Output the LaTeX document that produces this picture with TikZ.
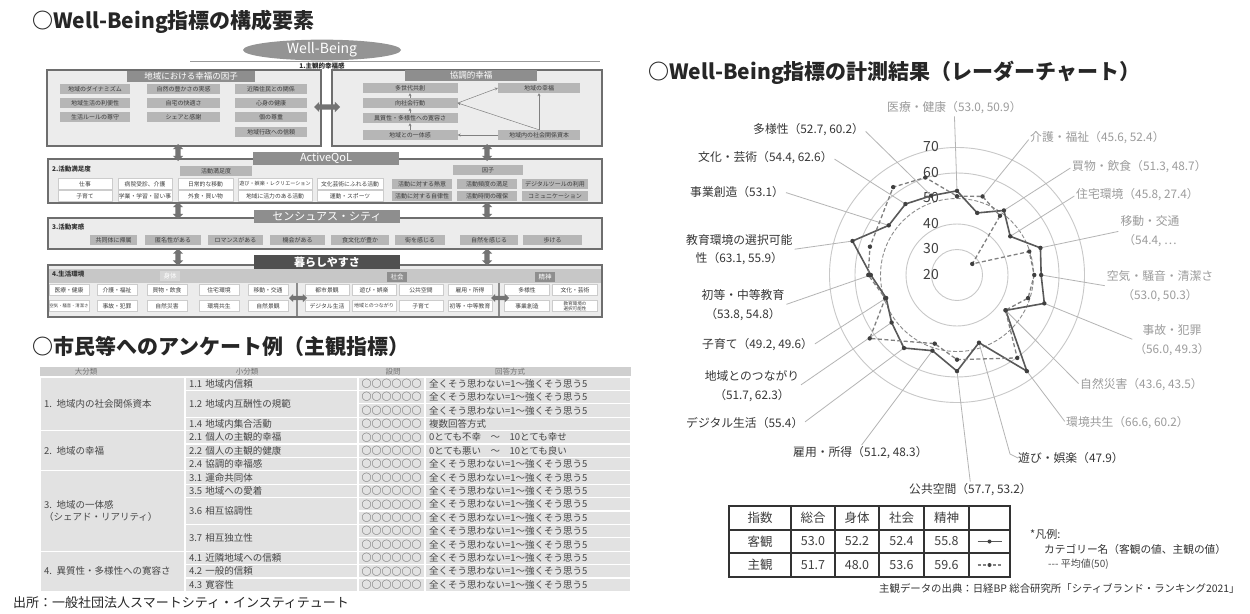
\documentclass[tikz,border=0pt]{standalone}
\usepackage{fontspec}
\setmainfont{Noto Sans CJK JP}
\usetikzlibrary{shapes.arrows,shapes.geometric,calc,arrows.meta}
\definecolor{bgbox}{HTML}{ECECEC}
\definecolor{frame}{HTML}{6E6E6E}
\definecolor{tabg}{HTML}{8E8E8E}
\definecolor{tabd}{HTML}{505050}
\definecolor{cellg}{HTML}{B6B6B6}
\definecolor{celltx}{HTML}{3C3C3C}
\definecolor{txd}{HTML}{363636}
\definecolor{txl}{HTML}{9C9C9C}
\definecolor{gridc}{HTML}{C8C8C8}
\definecolor{leadc}{HTML}{B4B4B4}
\definecolor{qbg}{HTML}{E2E2E2}
\definecolor{qhd}{HTML}{CFCFCF}
\definecolor{ptc}{HTML}{404040}
\newcommand\myfs[1]{\fontsize{#1}{#1}\selectfont}
\newcommand\rfont{\fontsize{11.8}{18.5}\selectfont}
\newcommand\qa{全くそう思わない=1～強くそう思う5}
\newcommand\cl[6]{\node[#1, minimum width=#5pt] (#2) at (#3,#4) {#6};}
\newcommand\qr[3]{\node[qcellc] (m#1) at (391.5,#2) {○○○○○○};
  \node[qcell, text width=198pt, minimum height=13.4pt] (n#1) at (528,#2) {#3};}
\newcommand\qs[4]{\node[qcell, text width=165pt, minimum height=#3pt] (#1) at (271.5,#2) {#4};}
\begin{document}
\begin{tikzpicture}[x=1pt,y=-1pt,
  title/.style={anchor=west, inner sep=0pt, font=\myfs{21}\bfseries, text=black!85},
  box/.style={draw=frame, line width=1.4pt, fill=bgbox, inner sep=0pt},
  tab/.style={fill=tabg, text=white, inner sep=0pt, font=\myfs{8.5}},
  gcell/.style={fill=cellg, text=celltx, inner sep=0pt, font=\myfs{6}, minimum height=10pt},
  wcell/.style={fill=white, draw=black!20, line width=0.4pt, text=celltx, inner sep=0pt, font=\myfs{5.8}, minimum height=11pt, align=center},
  tag/.style={fill=tabg, text=white, inner sep=0pt, font=\myfs{6.5}, minimum width=20pt, minimum height=10pt},
  seclbl/.style={anchor=west, inner sep=0pt, font=\myfs{6.5}\bfseries, text=black!80},
  dbl/.style={double arrow, fill=black!55, inner sep=2.5pt, minimum height=18pt, double arrow head extend=2.5pt},
  ar/.style={-{Stealth[length=3pt,width=3pt]}, draw=black!50, line width=0.5pt},
  ringc/.style={draw=gridc, line width=0.9pt},
  avgring/.style={draw=black!45, line width=0.9pt, dash pattern=on 4pt off 2pt},
  objl/.style={draw=black!65, line width=1.6pt},
  subl/.style={draw=black!50, line width=1.3pt, dash pattern=on 4pt off 2.5pt},
  rl/.style={font=\rfont, inner sep=0pt, text=txd},
  rll/.style={rl, text=txl},
  lead/.style={draw=leadc, line width=0.8pt, shorten <=2pt},
  ringlbl/.style={font=\myfs{14}, inner sep=0pt, text=black!75},
  tcell/.style={draw=black!80, line width=1.3pt, inner sep=0pt, font=\myfs{12.5}, text=black!75},
  qcell/.style={fill=qbg, draw=white, line width=1.2pt, inner xsep=4pt, inner ysep=0pt, font=\fontsize{9.5}{11.5}\selectfont, text=black!72, align=left},
  qcellc/.style={fill=qbg, draw=white, line width=1.2pt, inner sep=0pt, minimum width=67pt, minimum height=13.4pt, font=\myfs{10}, text=black!72},
  qht/.style={inner sep=0pt, font=\myfs{7.5}, text=black!55}
]
\useasboundingbox[fill=white] (0,0) rectangle (1250,613);

% ---------------- titles ----------------
\node[title] (t1) at (32,22) {○Well-Being指標の構成要素};
\node[title] (t2) at (32,346) {○市民等へのアンケート例（主観指標）};
\node[title] (t3) at (648,73) {○Well-Being指標の計測結果（レーダーチャート）};
\node[anchor=west, inner sep=0pt, font=\myfs{13}, text=black!85] (src1) at (13,603) {出所：一般社団法人スマートシティ・インスティテュート};

% ---------------- structure: level 1 ----------------
\draw[black!40, line width=0.6pt] (190,61) -- (600,61);
\node[ellipse, fill=black!42, minimum width=158pt, minimum height=17pt, inner sep=0pt, text=white, font=\myfs{14}] (wb) at (322,50) {Well-Being};
\node[font=\myfs{6.5}\bfseries, inner sep=0.5pt, text=black!85] (sub1) at (322,66) {1.主観的幸福感};

\node[box, minimum width=274pt, minimum height=76pt] (B1) at (184,108) {};
\node[tab, minimum width=128pt, minimum height=11pt] (T1) at (191,76) {地域における幸福の因子};
\cl{gcell}{a11}{95}{89}{70}{地域のダイナミズム}
\cl{gcell}{a12}{183.5}{89}{73}{自然の豊かさの実感}
\cl{gcell}{a13}{271}{89}{72}{近隣住民との関係}
\cl{gcell}{a21}{95}{103}{70}{地域生活の利便性}
\cl{gcell}{a22}{183.5}{103}{73}{自宅の快適さ}
\cl{gcell}{a23}{271}{103}{72}{心身の健康}
\cl{gcell}{a31}{95}{117}{70}{生活ルールの尊守}
\cl{gcell}{a32}{183.5}{117}{73}{シェアと感謝}
\cl{gcell}{a33}{271}{117}{72}{個の尊重}
\cl{gcell}{a43}{271}{132}{72}{地域行政への信頼}

\node[box, minimum width=270pt, minimum height=76pt] (R1) at (467,108) {};
\node[tab, minimum width=132pt, minimum height=11pt] (TR) at (471,75) {協調的幸福};
\cl{gcell}{r1}{410}{88}{95}{多世代共創}
\cl{gcell}{r2}{410}{103}{95}{向社会行動}
\cl{gcell}{r3}{410}{118}{95}{異質性・多様性への寛容さ}
\cl{gcell}{r4}{410}{135}{95}{地域との一体感}
\cl{gcell}{q1}{539}{88}{82}{地域の幸福}
\cl{gcell}{q2}{539}{135}{82}{地域内の社会関係資本}
\draw[ar] (r2.east) -- (q1.west);
\draw[ar] (q2.north) -- (q1.south);
\draw[ar] (q2.north) -- (r2.east);
\draw[ar] (q2.west) -- (r4.east);
\draw[ar] (r4.north) -- (r3.south);
\draw[ar] (r3.north) -- (r2.south);
\draw[ar] (r2.north) -- (r1.south);
\node[dbl, minimum height=26pt] (h1) at (327,107) {};

% ---------------- level 2 ----------------
\node[box, minimum width=554pt, minimum height=44pt] (B2) at (325,181) {};
\node[tab, minimum width=146pt, minimum height=13pt, font=\myfs{11}] (T2) at (326,158.5) {ActiveQoL};
\node[seclbl] (S2) at (52,169) {2.活動満足度};
\cl{gcell}{h2a}{216}{171}{72}{活動満足度}
\cl{wcell}{b11}{85}{184}{54}{仕事}
\cl{wcell}{b12}{145}{184}{54}{病院受診、介護}
\cl{wcell}{b13}{205.5}{184}{55}{日常的な移動}
\cl{wcell}{b14}{275}{184}{74}{\myfs{5.1}遊び・娯楽・レクリエーション}
\cl{wcell}{b15}{350}{184}{66}{文化芸術にふれる活動}
\cl{wcell}{b21}{85}{196}{54}{子育て}
\cl{wcell}{b22}{145}{196}{54}{学業・学習・習い事}
\cl{wcell}{b23}{205.5}{196}{55}{外食・買い物}
\cl{wcell}{b24}{275}{196}{74}{地域に活力のある活動}
\cl{wcell}{b25}{350}{196}{66}{運動・スポーツ}
\cl{gcell}{h2b}{488}{170}{70}{因子}
\cl{gcell}{c11}{422}{184}{60}{活動に対する熱意}
\cl{gcell}{c12}{487}{184}{60}{活動頻度の満足}
\cl{gcell}{c13}{555}{184}{66}{デジタルツールの利用}
\cl{gcell}{c21}{422}{196}{60}{活動に対する自律性}
\cl{gcell}{c22}{487}{196}{60}{活動時間の確保}
\cl{gcell}{c23}{555}{196}{66}{コミュニケーション}

% ---------------- level 3 ----------------
\node[box, minimum width=554pt, minimum height=31pt] (B3) at (325,233.5) {};
\node[tab, minimum width=146pt, minimum height=13pt, font=\myfs{11}] (T3) at (327,216.5) {センシュアス・シティ};
\node[seclbl] (S3) at (52,227) {3.活動実感};
\cl{gcell}{d1}{113.5}{240}{47}{共同体に帰属}
\cl{gcell}{d2}{173}{240}{56}{匿名性がある}
\cl{gcell}{d3}{235.5}{240}{55}{ロマンスがある}
\cl{gcell}{d4}{297.5}{240}{55}{機会がある}
\cl{gcell}{d5}{360}{240}{58}{食文化が豊か}
\cl{gcell}{d6}{420}{240}{50}{街を感じる}
\cl{gcell}{d7}{489}{240}{58}{自然を感じる}
\cl{gcell}{d8}{552.5}{240}{59}{歩ける}

% ---------------- level 4 ----------------
\node[box, minimum width=554pt, minimum height=52pt] (B4) at (325,291) {};
\node[fill=black!22, minimum width=552pt, minimum height=14pt, inner sep=0pt] (band4) at (325,276) {};
\node[tab, fill=tabd, font=\myfs{11}\bfseries, minimum width=146pt, minimum height=14pt] (T4) at (327,262) {暮らしやすさ};
\node[seclbl] (S4) at (52,274) {4.生活環境};
\node[tag, fill=black!16] (g1) at (170,276) {身体};
\node[tag] (g2) at (397,277) {社会};
\node[tag] (g3) at (545,277) {精神};
\draw[black!45, line width=1.8pt] (297,283) -- (297,316);
\draw[black!45, line width=1.8pt] (499,283) -- (499,316);
\cl{wcell}{e11}{69}{290}{40}{医療・健康}
\cl{wcell}{e12}{117}{290}{40}{介護・福祉}
\cl{wcell}{e13}{167}{290}{40}{買物・飲食}
\cl{wcell}{e14}{219}{290}{40}{住宅環境}
\cl{wcell}{e15}{268}{290}{40}{移動・交通}
\cl{wcell}{e21}{69}{306}{40}{\myfs{4.3}空気・騒音・清潔さ}
\cl{wcell}{e22}{117}{306}{40}{事故・犯罪}
\cl{wcell}{e23}{167}{306}{40}{自然災害}
\cl{wcell}{e24}{219}{306}{40}{環境共生}
\cl{wcell}{e25}{268}{306}{40}{自然景観}
\cl{wcell}{f11}{327}{290}{44}{都市景観}
\cl{wcell}{f12}{374}{290}{44}{遊び・娯楽}
\cl{wcell}{f13}{421}{290}{44}{公共空間}
\cl{wcell}{f14}{470}{290}{44}{雇用・所得}
\cl{wcell}{f21}{327}{306}{44}{デジタル生活}
\cl{wcell}{f22}{374}{306}{44}{\myfs{5}地域とのつながり}
\cl{wcell}{f23}{421}{306}{44}{子育て}
\cl{wcell}{f24}{470}{306}{44}{初等・中等教育}
\cl{wcell}{g11}{527}{290}{45}{多様性}
\cl{wcell}{g12}{575}{290}{45}{文化・芸術}
\cl{wcell}{g21}{527}{306}{45}{事業創造}
\node[wcell, minimum width=45pt, font=\myfs{4.6}] (g22) at (575,306) {教育環境の\\選択可能性};
\node[dbl, minimum height=18pt, inner sep=2pt, double arrow head extend=2pt] (h4a) at (298,298) {};
\node[dbl, minimum height=18pt, inner sep=2pt, double arrow head extend=2pt] (h4b) at (500,298) {};

% vertical links between levels
\node[dbl, shape border rotate=90, minimum height=17pt] (v1) at (178,152.5) {};
\node[dbl, shape border rotate=90, minimum height=17pt] (v2) at (487,152.5) {};
\node[dbl, shape border rotate=90, minimum height=17pt] (v3) at (178,210.5) {};
\node[dbl, shape border rotate=90, minimum height=17pt] (v4) at (487,210.5) {};
\node[dbl, shape border rotate=90, minimum height=17pt] (v5) at (178,257) {};
\node[dbl, shape border rotate=90, minimum height=17pt] (v6) at (487,257) {};

% ---------------- questionnaire table ----------------
\node[fill=qhd, minimum width=591pt, minimum height=10pt, inner sep=0pt] (qh) at (335.5,372) {};
\node[qht] (qh1) at (86,372) {大分類};
\node[qht] (qh2) at (247,372) {小分類};
\node[qht] (qh3) at (393,372) {設問};
\node[qht] (qh4) at (510,372) {回答方式};
\node[qcell, text width=137pt, minimum height=53.6pt] (p1) at (112.5,403.8) {1. 地域内の社会関係資本};
\node[qcell, text width=137pt, minimum height=40.2pt] (p2) at (112.5,450.7) {2. 地域の幸福};
\node[qcell, text width=137pt, minimum height=80.4pt] (p3) at (112.5,511) {3. 地域の一体感\\（シェアド・リアリティ）};
\node[qcell, text width=137pt, minimum height=40.2pt] (p4) at (112.5,571.3) {4. 異質性・多様性への寛容さ};
\qs{u1}{383.7}{13.4}{1.1 地域内信頼}
\qs{u2}{403.8}{26.8}{1.2 地域内互酬性の規範}
\qs{u4}{423.9}{13.4}{1.4 地域内集合活動}
\qs{u5}{437.3}{13.4}{2.1 個人の主観的幸福}
\qs{u6}{450.7}{13.4}{2.2 個人の主観的健康}
\qs{u7}{464.1}{13.4}{2.4 協調的幸福感}
\qs{u8}{477.5}{13.4}{3.1 運命共同体}
\qs{u9}{490.9}{13.4}{3.5 地域への愛着}
\qs{u10}{511}{26.8}{3.6 相互協調性}
\qs{u12}{537.8}{26.8}{3.7 相互独立性}
\qs{u14}{557.9}{13.4}{4.1 近隣地域への信頼}
\qs{u15}{571.3}{13.4}{4.2 一般的信頼}
\qs{u16}{584.7}{13.4}{4.3 寛容性}
\qr{1}{383.7}{\qa}
\qr{2}{397.1}{\qa}
\qr{3}{410.5}{\qa}
\qr{4}{423.9}{複数回答方式}
\qr{5}{437.3}{0とても不幸\quad ～\quad 10とても幸せ}
\qr{6}{450.7}{0とても悪い\quad ～\quad 10とても良い}
\qr{7}{464.1}{\qa}
\qr{8}{477.5}{\qa}
\qr{9}{490.9}{\qa}
\qr{10}{504.3}{\qa}
\qr{11}{517.7}{\qa}
\qr{12}{531.1}{\qa}
\qr{13}{544.5}{\qa}
\qr{14}{557.9}{\qa}
\qr{15}{571.3}{\qa}
\qr{16}{584.7}{\qa}

% ---------------- radar chart ----------------
\begin{scope}[shift={(957,275)}]
  \foreach \k in {1,2,4,5} \draw[ringc] (0,0) circle ({25.5*\k});
  \draw[avgring] (0,0) circle (76.5);
  \foreach \i/\v in {0/53.0,1/45.6,2/51.3,3/45.8,4/54.4,5/53.0,6/56.0,7/43.6,8/66.6,9/47.9,10/57.7,11/51.2,12/55.4,13/51.7,14/49.2,15/53.8,16/63.1,17/53.1,18/54.4,19/52.7}
    \coordinate (o\i) at ({18*\i-90}:{(\v-20)*2.55});
  \foreach \i/\v in {0/50.9,1/52.4,2/48.7,3/27.4,4/49.8,5/50.3,6/49.3,7/43.5,8/60.2,10/53.2,11/48.3,13/62.3,14/49.6,15/54.8,16/55.9,18/62.6,19/60.2}
    \coordinate (s\i) at ({18*\i-90}:{(\v-20)*2.55});
\end{scope}
\node[ringlbl] (n70) at (931,147) {70};
\node[ringlbl] (n60) at (931,173) {60};
\node[ringlbl] (n50) at (931,198) {50};
\node[ringlbl] (n40) at (931,224) {40};
\node[ringlbl] (n30) at (931,249) {30};
\node[ringlbl] (n20) at (931,275) {20};

% labels
\node[rll, anchor=west] (L0) at (887,108) {医療・健康（53.0, 50.9）};
\node[rll, anchor=west] (L1) at (1030,138) {介護・福祉（45.6, 52.4）};
\node[rll, anchor=west] (L2) at (1072,167) {買物・飲食（51.3, 48.7）};
\node[rll, anchor=west] (L3) at (1076,195) {住宅環境（45.8, 27.4）};
\node[rll, align=center] (L4) at (1150,231) {移動・交通\\（54.4, …};
\node[rll, align=center] (L5) at (1160,286) {空気・騒音・清潔さ\\（53.0, 50.3）};
\node[rll, align=center] (L6) at (1172,340) {事故・犯罪\\（56.0, 49.3）};
\node[rll, anchor=west] (L7) at (1080,385) {自然災害（43.6, 43.5）};
\node[rll, anchor=west] (L8) at (1066,423) {環境共生（66.6, 60.2）};
\node[rl, anchor=west] (L9) at (1018,458) {遊び・娯楽（47.9）};
\node[rl, anchor=west] (L10) at (909,490) {公共空間（57.7, 53.2）};
\node[rl, anchor=west] (L11) at (793,453) {雇用・所得（51.2, 48.3）};
\node[rl, anchor=west] (L12) at (686,423) {デジタル生活（55.4）};
\node[rl, align=center] (L13) at (752,386) {地域とのつながり\\（51.7, 62.3）};
\node[rl, anchor=west] (L14) at (702,345) {子育て（49.2, 49.6）};
\node[rl, align=center] (L15) at (743,305) {初等・中等教育\\（53.8, 54.8）};
\node[rl, align=center, anchor=west] (L16) at (686,249.5) {教育環境の選択可能\\性（63.1, 55.9）};
\node[rl, anchor=west] (L17) at (690,192) {事業創造（53.1）};
\node[rl, anchor=west] (L18) at (698,158) {文化・芸術（54.4, 62.6）};
\node[rl, anchor=west] (L19) at (753,130) {多様性（52.7, 60.2）};
\coordinate (k9) at (1010,454);

% leader lines
\draw[lead] (L0.south) -- (o0);
\draw[lead] (L1.west) -- (s1);
\draw[lead] (L2.west) -- (o2);
\draw[lead] (L3.west) -- (o3);
\draw[lead] (L4.west) -- (o4);
\draw[lead] (L5.west) -- (o5);
\draw[lead] (L6.west) -- (o6);
\draw[lead] (L7.west) -- (o7);
\draw[lead] (L8.west) -- (o8);
\draw[lead, shorten <=0pt] (o9) -- (k9) -- (L9.west);
\draw[lead] (L10.north) -- (o10);
\draw[lead] (L11.north) -- (o11);
\draw[lead] (L12.east) -- (o12);
\draw[lead] (L13.east) -- (o13);
\draw[lead] (L14.east) -- (o14);
\draw[lead] (L15.east) -- (o15);
\draw[lead] (L16.east) -- (o16);
\draw[lead] (L17.east) -- (o17);
\draw[lead] (L18.east) -- (o18);
\draw[lead] (L19.east) -- (o19);

% data series
\draw[objl] (o0) -- (o1) -- (o2) -- (o3) -- (o4) -- (o5) -- (o6) -- (o7) -- (o8) -- (o9) -- (o10) -- (o11) -- (o12) -- (o13) -- (o14) -- (o15) -- (o16) -- (o17) -- (o18) -- (o19) -- cycle;
\draw[subl] (s0) -- (s1) -- (s2) -- (s3) -- (s4) -- (s5) -- (s6) -- (s7) -- (s8) -- (s10) -- (s11) -- (s13) -- (s14) -- (s15) -- (s16) -- (s18) -- (s19) -- cycle;
\foreach \i in {0,...,19} \fill[ptc] (o\i) circle (2.2);
\foreach \i in {0,1,2,3,4,5,6,7,8,10,11,13,14,15,16,18,19} \fill[ptc] (s\i) circle (2.2);

% ---------------- index table ----------------
\node[tcell, minimum width=62pt, minimum height=24pt] (t11) at (760,518) {指数};
\node[tcell, minimum width=44pt, minimum height=24pt] (t12) at (813,518) {総合};
\node[tcell, minimum width=44pt, minimum height=24pt] (t13) at (857,518) {身体};
\node[tcell, minimum width=45pt, minimum height=24pt] (t14) at (901.5,518) {社会};
\node[tcell, minimum width=45pt, minimum height=24pt] (t15) at (946.5,518) {精神};
\node[tcell, minimum width=41pt, minimum height=24pt] (t16) at (989.5,518) {};
\node[tcell, minimum width=62pt, minimum height=23pt] (t21) at (760,541.5) {客観};
\node[tcell, minimum width=44pt, minimum height=23pt] (t22) at (813,541.5) {53.0};
\node[tcell, minimum width=44pt, minimum height=23pt] (t23) at (857,541.5) {52.2};
\node[tcell, minimum width=45pt, minimum height=23pt] (t24) at (901.5,541.5) {52.4};
\node[tcell, minimum width=45pt, minimum height=23pt] (t25) at (946.5,541.5) {55.8};
\node[tcell, minimum width=41pt, minimum height=23pt] (t26) at (989.5,541.5) {};
\node[tcell, minimum width=62pt, minimum height=24pt] (t31) at (760,565) {主観};
\node[tcell, minimum width=44pt, minimum height=24pt] (t32) at (813,565) {51.7};
\node[tcell, minimum width=44pt, minimum height=24pt] (t33) at (857,565) {48.0};
\node[tcell, minimum width=45pt, minimum height=24pt] (t34) at (901.5,565) {53.6};
\node[tcell, minimum width=45pt, minimum height=24pt] (t35) at (946.5,565) {59.6};
\node[tcell, minimum width=41pt, minimum height=24pt] (t36) at (989.5,565) {};
\draw[objl, line width=1.1pt] ($(t26.center)+(-12,0)$) -- ($(t26.center)+(12,0)$);
\fill[ptc] (t26.center) circle (2);
\draw[subl, line width=1.1pt, dash pattern=on 3pt off 2pt] ($(t36.center)+(-12,0)$) -- ($(t36.center)+(12,0)$);
\fill[ptc] (t36.center) circle (2);

% legend & source
\node[anchor=west, inner sep=0pt, font=\myfs{11}, text=black!80] (lg1) at (1030,534) {*凡例:};
\node[anchor=west, inner sep=0pt, font=\myfs{10.7}, text=black!80] (lg2) at (1044,549) {カテゴリー名（客観の値、主観の値）};
\node[anchor=west, inner sep=0pt, font=\myfs{10}, text=black!70] (lg3) at (1048,564) {-{}-{}- 平均値(50)};
\node[anchor=west, inner sep=0pt, font=\myfs{10.4}, text=black!80] (src2) at (879,588) {主観データの出典：日経BP 総合研究所「シティブランド・ランキング2021」};
\end{tikzpicture}
\end{document}
